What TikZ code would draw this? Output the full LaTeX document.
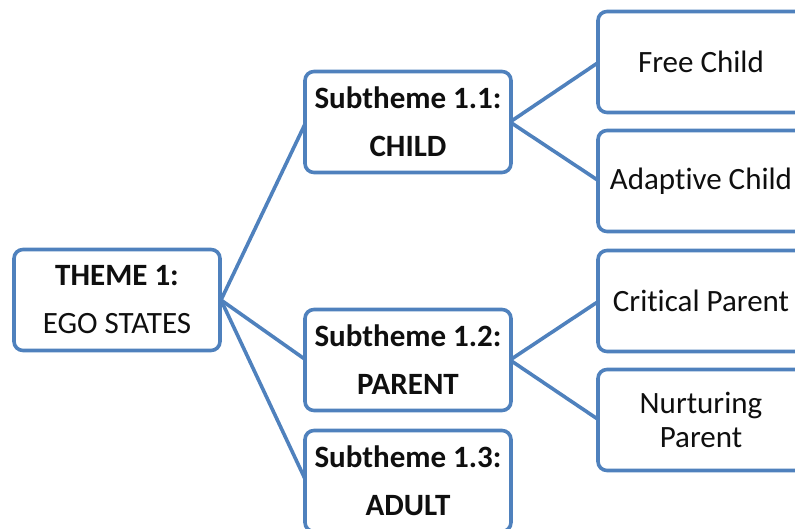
\documentclass[tikz,border=0pt]{standalone}
\usepackage{fontspec}
\setmainfont[RawFeature={-liga;-clig;-calt}]{Carlito}
\definecolor{boxblue}{RGB}{79,129,189}
\definecolor{txt}{RGB}{15,15,15}
\begin{document}
\begin{tikzpicture}[x=1pt,y=-1pt,
  box/.style={draw=boxblue, line width=3.6pt, rounded corners=9pt, fill=white,
    text=txt, align=center, inner sep=0pt, minimum width=206pt, minimum height=101pt,
    font=\fontsize{31}{48}\selectfont},
  leafbox/.style={box, font=\fontsize{31}{34}\selectfont},
  link/.style={draw=boxblue, line width=3.6pt}]
  \useasboundingbox (0,0) rectangle (795,528);
  \clip (0,0) rectangle (795,528);

  % tree connectors (drawn first, boxes cover their ends)
  \coordinate (hub) at (221,300);
  \coordinate (s1w) at (306,122);
  \coordinate (s2w) at (306,360);
  \coordinate (s3w) at (306,481);
  \coordinate (s1e) at (510,122);
  \coordinate (s2e) at (510,360);
  \coordinate (fcw) at (599,62);
  \coordinate (acw) at (599,181);
  \coordinate (cpw) at (599,301);
  \coordinate (npw) at (599,420);
  \draw[link] (s1w) -- (hub) -- (s2w);
  \draw[link] (hub) -- (s3w);
  \draw[link] (fcw) -- (s1e) -- (acw);
  \draw[link] (cpw) -- (s2e) -- (npw);

  % boxes
  \node[box] (theme) at (117,300) {\textbf{THEME 1:}\\EGO STATES};
  \node[box] (s1) at (408,122) {\textbf{Subtheme 1.1:}\\\textbf{CHILD}};
  \node[box] (s2) at (408,360) {\textbf{Subtheme 1.2:}\\\textbf{PARENT}};
  \node[box] (s3) at (408,481) {\textbf{Subtheme 1.3:}\\\textbf{ADULT}};
  \node[leafbox] (fc) at (701,62) {Free Child};
  \node[leafbox] (ac) at (701,181) {Adaptive Child};
  \node[leafbox] (cp) at (701,301) {Critical Parent};
  \node[leafbox] (np) at (701,420) {Nurturing\\Parent};
\end{tikzpicture}
\end{document}
